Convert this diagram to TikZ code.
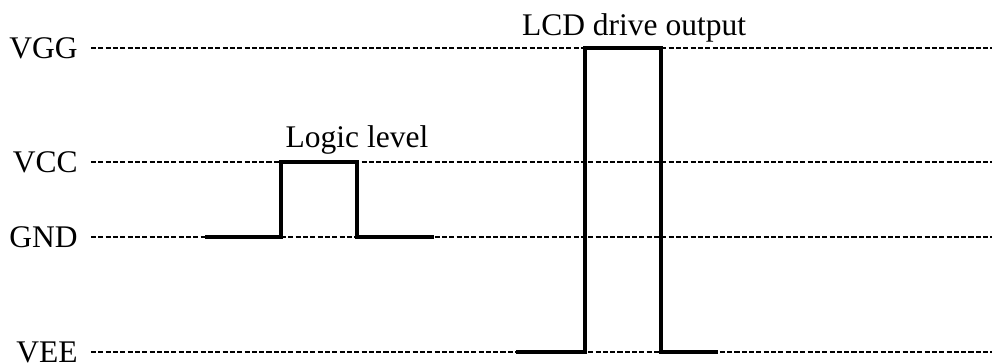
\documentclass[tikz,border=0pt]{standalone}
\usepackage{fontspec}
\setmainfont{Liberation Serif}
\usepackage{tikz}
\usetikzlibrary{positioning,calc}

\begin{document}
\begin{tikzpicture}[
    x=0.025cm, y=-0.025cm,
    level/.style={rectangle, inner ysep=0pt, inner xsep=0.325cm, anchor=east, font=\fontsize{22.4}{26}\selectfont},
    caption/.style={anchor=base, inner sep=0pt, font=\fontsize{22.4}{26}\selectfont},
    rail/.style={dashed, dash pattern=on 3.6pt off 1.6pt, line width=0.9pt},
    wave/.style={line width=2.5pt, line join=miter}
]
\useasboundingbox (0,0) rectangle (992,362);

% Voltage levels
\node[level] (vgg) at (91,48) {VGG};
\node[level] (vcc) at (91,162) {VCC};
\node[level] (gnd) at (91,237) {GND};
\node[level] (vee) at (91,352) {VEE};

\coordinate (vggR) at (992,48);
\coordinate (vccR) at (992,162);
\coordinate (gndR) at (992,237);
\coordinate (veeR) at (992,352);

\draw[rail] (vgg.east) -- (vggR);
\draw[rail] (vcc.east) -- (vccR);
\draw[rail] (gnd.east) -- (gndR);
\draw[rail] (vee.east) -- (veeR);

% Logic level pulse
\draw[wave] (205,237) -- (281,237) -- (281,162) -- (357,162) -- (357,237) -- (434,237);
\node[caption] (logic) at (357,147) {Logic level};

% LCD drive pulse
\draw[wave] (516,352) -- (585,352) -- (585,48) -- (661,48) -- (661,352) -- (718,352);
\node[caption] (lcd) at (634,35) {LCD drive output};

\end{tikzpicture}
\end{document}
